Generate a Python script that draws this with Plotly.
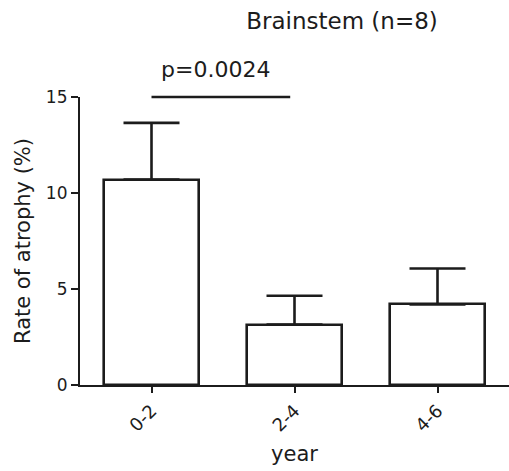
import plotly.graph_objects as go

categories = ["0-2", "2-4", "4-6"]
means = [10.7, 3.15, 4.2]
sem_upper = [2.95, 1.5, 1.87]
y_ticks = [0, 5, 10, 15]
title_text = "Brainstem (n=8)"
p_text = "p=0.0024"

W, H = 509, 471
L, R, T, B = 80, 0, 97, 86
ink = "#1c1c1c"
font = "DejaVu Sans"

fig = go.Figure()
fig.add_trace(go.Bar(
    x=[0, 1, 2], y=means, width=0.665,
    marker=dict(color="white", line=dict(color=ink, width=2.6)),
    error_y=dict(type="data", array=sem_upper, arrayminus=[0, 0, 0], symmetric=False,
                 color=ink, thickness=2.6, width=28),
    cliponaxis=False, showlegend=False,
))

fig.add_shape(type="line", xref="x", yref="paper", x0=0, x1=0.97, y0=1, y1=1,
              line=dict(color=ink, width=2.6))
fig.add_annotation(text=p_text, xref="x", yref="paper", x=0.45, y=1.094,
                   showarrow=False, font=dict(family=font, size=22, color=ink),
                   xanchor="center", yanchor="middle")

fig.update_layout(
    width=W, height=H,
    margin=dict(l=L, r=R, t=T, b=B, pad=0),
    plot_bgcolor="white", paper_bgcolor="white",
    font=dict(family=font, color=ink),
    title=dict(text=title_text, x=342 / W, xanchor="center", xref="container",
               y=1 - 21 / H, yanchor="middle", yref="container",
               font=dict(family=font, size=23, color=ink)),
    bargap=0,
)
fig.update_xaxes(
    type="linear", range=[-0.5, 2.5], tickvals=[0, 1, 2], ticktext=categories,
    showline=True, linecolor=ink, linewidth=2.2, ticks="outside", ticklen=6,
    tickwidth=2, tickcolor=ink, tickangle=-45, showgrid=False, zeroline=False,
    tickfont=dict(family=font, size=18, color=ink),
    title=dict(text="year", font=dict(family=font, size=21, color=ink), standoff=12),
)
fig.update_yaxes(
    range=[0, 15], tickvals=y_ticks, showline=True, linecolor=ink, linewidth=2.2,
    ticks="outside", ticklen=7, tickwidth=2, tickcolor=ink, showgrid=False,
    zeroline=False, tickfont=dict(family=font, size=17, color=ink),
    title=dict(text="Rate of atrophy (%)", font=dict(family=font, size=21, color=ink),
               standoff=10),
)

fig.write_html("out.html")
